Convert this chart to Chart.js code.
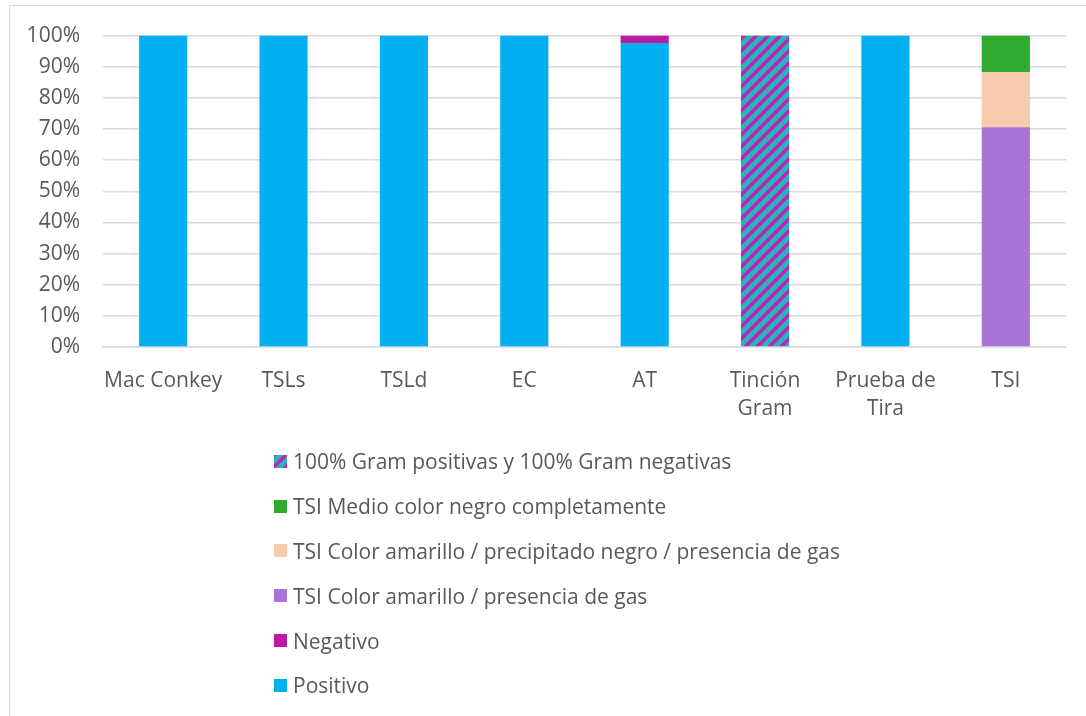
<!DOCTYPE html>
<html>
<head>
<meta charset="UTF-8" />
<script src="https://cdn.jsdelivr.net/npm/chart.js"></script>
<style>
  body { margin: 0; padding: 0; background: #fff; font-family: 'Open Sans', sans-serif; }
  .frame {
    position: absolute; left: 9px; top: 5px; width: 1100px; height: 730px;
    border: 1px solid #d9d9d9; box-sizing: border-box;
  }
  .chart-box { position: absolute; left: 0; top: 0; width: 1086px; height: 430px; }
  #legend { position: absolute; left: 274px; top: 439px; }
  .item { display: flex; align-items: center; height: 44.8px; font-size: 21px; color: #595959; }
  .item canvas { width: 13px; height: 13px; margin-right: 6px; }
</style>
</head>
<body>
<div class="frame"></div>
<div class="chart-box"><canvas id="chart"></canvas></div>
<div id="legend"></div>
<script>
  const categories = ['Mac Conkey', 'TSLs', 'TSLd', 'EC', 'AT', ['Tinción', 'Gram'], ['Prueba de', 'Tira'], 'TSI'];
  const positivo    = [100, 100, 100, 100, 97.6, 0, 100, 0];
  const negativo    = [0, 0, 0, 0, 2.4, 0, 0, 0];
  const tsiGas      = [0, 0, 0, 0, 0, 0, 0, 70.6];
  const tsiPrecip   = [0, 0, 0, 0, 0, 0, 0, 17.6];
  const tsiNegro    = [0, 0, 0, 0, 0, 0, 0, 11.8];
  const gramAmbas   = [0, 0, 0, 0, 0, 100, 0, 0];
  const yTicks = [0, 10, 20, 30, 40, 50, 60, 70, 80, 90, 100];

  // rayas diagonales para la tinción gram
  function makeHatch() {
    const n = 12;
    const c = document.createElement('canvas');
    c.width = n; c.height = n;
    const g = c.getContext('2d');
    g.fillStyle = '#27b5b8';
    g.fillRect(0, 0, n, n);
    g.strokeStyle = '#c21fbf';
    g.lineWidth = 3.5;
    g.beginPath();
    g.moveTo(-2, n + 2); g.lineTo(n + 2, -2);
    g.moveTo(-n - 2, n + 2); g.lineTo(2, -2);
    g.moveTo(n - 2, n + 2); g.lineTo(2 * n + 2, -2);
    g.stroke();
    return c;
  }
  const hatchTile = makeHatch();
  const ctx = document.getElementById('chart').getContext('2d');
  const hatch = ctx.createPattern(hatchTile, 'repeat');

  const datasets = [
    { label: 'Positivo', data: positivo, backgroundColor: '#00b0f0' },
    { label: 'Negativo', data: negativo, backgroundColor: '#bb1aa5' },
    { label: 'TSI Color amarillo / presencia de gas', data: tsiGas, backgroundColor: '#a875d7' },
    { label: 'TSI Color amarillo / precipitado negro / presencia de gas', data: tsiPrecip, backgroundColor: '#f8cbad' },
    { label: 'TSI Medio color negro completamente', data: tsiNegro, backgroundColor: '#2eab2e' },
    { label: '100% Gram positivas y 100% Gram negativas', data: gramAmbas, backgroundColor: hatch, swatch: 'hatch' },
  ];
  datasets.forEach(d => { d.barPercentage = 0.8; d.categoryPercentage = 0.5; d.borderWidth = 0; });

  Chart.defaults.font.family = "'Open Sans', sans-serif";
  Chart.defaults.color = '#595959';

  new Chart(ctx, {
    type: 'bar',
    data: { labels: categories, datasets: datasets },
    options: {
      responsive: true,
      maintainAspectRatio: false,
      animation: false,
      layout: { padding: { top: 24, right: 20, left: 0, bottom: 0 } },
      plugins: { legend: { display: false }, tooltip: { enabled: false } },
      scales: {
        x: {
          stacked: true,
          grid: { display: false },
          border: { color: '#d9d9d9', width: 1.5 },
          ticks: { font: { size: 21, lineHeight: 1.33 }, color: '#595959', padding: 12, maxRotation: 0, autoSkip: false },
          afterFit: s => { s.height = 83; }
        },
        y: {
          stacked: true,
          min: 0, max: 100,
          afterBuildTicks: s => { s.ticks = yTicks.map(v => ({ value: v })); },
          grid: { color: '#d9d9d9', lineWidth: 1.5, drawTicks: false },
          border: { display: false },
          ticks: { font: { size: 21 }, color: '#595959', padding: 23, callback: v => v + '%' },
          afterFit: s => { s.width = 103; }
        }
      }
    }
  });

  // leyenda en orden inverso, como en el original
  const legend = document.getElementById('legend');
  datasets.slice().reverse().forEach(d => {
    const row = document.createElement('div');
    row.className = 'item';
    const sw = document.createElement('canvas');
    sw.width = 13; sw.height = 13;
    const sg = sw.getContext('2d');
    sg.fillStyle = d.swatch === 'hatch' ? sg.createPattern(hatchTile, 'repeat') : d.backgroundColor;
    sg.fillRect(0, 0, 13, 13);
    row.appendChild(sw);
    const t = document.createElement('span');
    t.textContent = d.label;
    row.appendChild(t);
    legend.appendChild(row);
  });
</script>
</body>
</html>
